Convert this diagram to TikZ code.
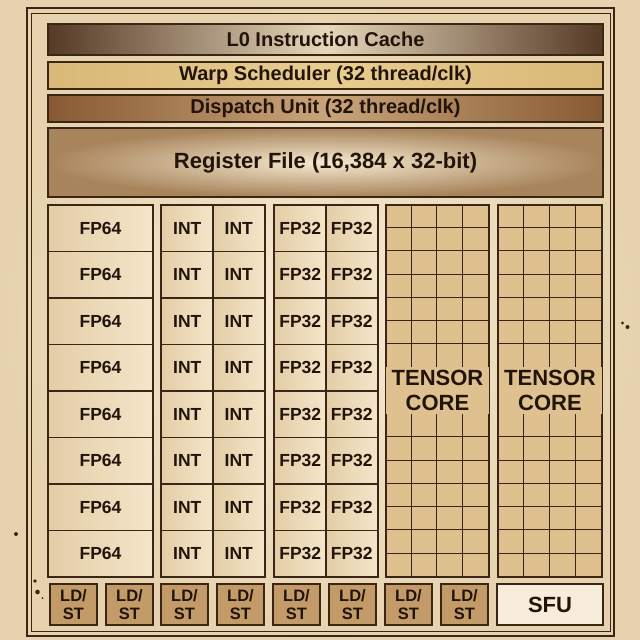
\documentclass[tikz,border=0pt]{standalone}
\usepackage{fontspec}
\setmainfont{Liberation Sans}

\definecolor{ink}{HTML}{3B2616}
\definecolor{letter}{HTML}{22140A}
\definecolor{paperlight}{HTML}{F6EBD4}
\definecolor{paperdark}{HTML}{E6D2AE}
\definecolor{cachedark}{HTML}{553A25}
\definecolor{cachelight}{HTML}{E6D7BC}
\definecolor{warp}{HTML}{E8CD91}
\definecolor{warpdark}{HTML}{D9B878}
\definecolor{dispdark}{HTML}{875A34}
\definecolor{displight}{HTML}{C9A47A}
\definecolor{regdark}{HTML}{A8845C}
\definecolor{reglight}{HTML}{F5E9CF}
\definecolor{cell}{HTML}{F4E6CA}
\definecolor{celldark}{HTML}{E3CDA6}
\definecolor{tensor}{HTML}{DFC08F}
\definecolor{ldst}{HTML}{C39B69}
\definecolor{sfu}{HTML}{F7EDDA}

\begin{document}
\begin{tikzpicture}[x=1pt, y=-1pt,
	bar/.style={draw=ink, line width=1.3pt, minimum width=555pt, inner sep=0pt, text=letter,
		font=\bfseries\fontsize{20}{22}\selectfont},
	unit/.style={draw=ink, line width=1.2pt, left color=celldark, right color=cell, minimum height=46.5pt,
		inner sep=0pt, text=letter, font=\bfseries\fontsize{17.5}{20}\selectfont},
	tensorbox/.style={draw=ink, line width=1.4pt, fill=tensor, minimum width=103pt, minimum height=372pt, inner sep=0pt},
	tensorlabel/.style={fill=tensor, minimum width=103pt, minimum height=46.5pt, inner sep=0pt, align=center,
		text=letter, font=\bfseries\fontsize{22}{24.3}\selectfont},
	ldst/.style={draw=ink, line width=1.2pt, fill=ldst, minimum width=47pt, minimum height=41pt, inner sep=0pt,
		align=center, text=letter, font=\bfseries\fontsize{16.5}{18.3}\selectfont}]

	\shade[inner color=paperlight, outer color=paperdark] (0,0) rectangle (640,640);
	\draw[ink, line width=1.4pt] (27,8) rectangle (614,636);
	\draw[ink, line width=1pt] (31,13) rectangle (610,631);

	\node[bar, minimum height=31pt, left color=cachedark, right color=cachedark, middle color=cachelight]
		(cache) at (325.5,39.5) {L0 Instruction Cache};
	\node[bar, minimum height=27pt, left color=warpdark, right color=warpdark, middle color=warp]
		(warp) at (325.5,75.5) {Warp Scheduler (32 thread/clk)};
	\node[bar, minimum height=27pt, left color=dispdark, right color=dispdark, middle color=displight]
		(dispatch) at (325.5,108.5) {Dispatch Unit (32 thread/clk)};
	\node[bar, minimum height=69pt, inner color=reglight, outer color=regdark, font=\bfseries\fontsize{22}{24}\selectfont]
		(regfile) at (325.5,162.5) {Register File (16,384 x 32-bit)};

	\foreach \r in {0,...,7}
	{
	\node[unit, minimum width=105pt] (fp64-\r) at (100.5,{228.25+46.5*\r}) {FP64};
	\node[unit, minimum width=51.5pt] (inta-\r) at (187.25,{228.25+46.5*\r}) {INT};
	\node[unit, minimum width=51.5pt] (intb-\r) at (238.75,{228.25+46.5*\r}) {INT};
	\node[unit, minimum width=51.5pt] (fpa-\r) at (300.25,{228.25+46.5*\r}) {FP32};
	\node[unit, minimum width=51.5pt] (fpb-\r) at (351.75,{228.25+46.5*\r}) {FP32};
}
	\draw[ink, line width=1.6pt] (fp64-0.north west) rectangle (fp64-7.south east);
	\draw[ink, line width=1.6pt] (inta-0.north west) rectangle (intb-7.south east);
	\draw[ink, line width=1.6pt] (fpa-0.north west) rectangle (fpb-7.south east);

	\foreach \t/\xc in {1/437.5, 2/550}
	{
	\node[tensorbox] (tensor\t) at (\xc,391) {};
	\foreach \k in {1,2,3}
		\draw[ink, line width=0.9pt] ([xshift=25.75*\k pt]tensor\t.north west) -- ([xshift=25.75*\k pt]tensor\t.south west);
	\foreach \k in {1,...,15}
		\draw[ink, line width=0.9pt] ([yshift=-23.25*\k pt]tensor\t.north west) -- ([yshift=-23.25*\k pt]tensor\t.north east);
	\node[tensorlabel] (tlabel\t) at (\xc,390.5) {TENSOR\\CORE};
	\draw[ink, line width=1.4pt] (tensor\t.north west) rectangle (tensor\t.south east);
}

	\foreach \i/\xc in {1/73.5, 2/129.5, 3/184.5, 4/240.5, 5/296.5, 6/352.5, 7/408.5, 8/464.5}
	{
	\node[ldst] (ldst\i) at (\xc,604.5) {LD/\\ST};
}
	\node[ldst, fill=sfu, minimum width=106pt, font=\bfseries\fontsize{22}{24}\selectfont] (sfu) at (550,604.5) {SFU};

	\fill[ink] (35,581) circle (1.8pt);
	\fill[ink] (37.5,592) circle (2.3pt);
	\fill[ink] (42.5,598) circle (1pt);
	\fill[ink] (16,534) circle (2pt);
	\fill[ink] (622.5,323) circle (1.6pt);
	\fill[ink] (627.5,327) circle (2pt);

\end{tikzpicture}
\end{document}
